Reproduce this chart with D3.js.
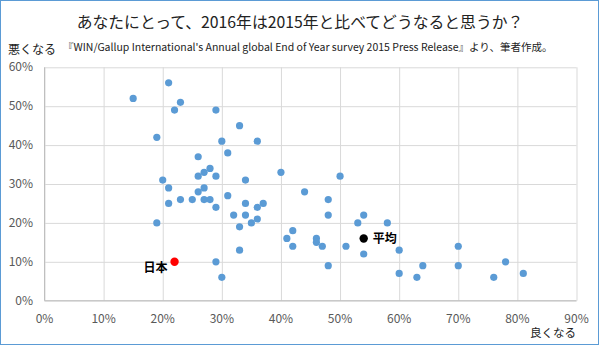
<!DOCTYPE html>
<html><head><meta charset="utf-8">
<script src="https://cdn.jsdelivr.net/npm/d3@7"></script>
<style>
html,body{margin:0;padding:0;background:#fff;}
svg{display:block;font-family:"Noto Sans CJK JP","Noto Sans",sans-serif;}
</style></head>
<body><svg id="c" width="600" height="346"></svg>
<script>
// x: 良くなる (better) %, y: 悪くなる (worse) %
const countriesBetter = [15,21,23,22,29,33,19,30,36,31,26,28,27,26,29,20,21,27,40,50,34,26,31,21,23,25,27,28,29,32,33,19,33,29,30,44,48,34,36,37,34,36,35,48,54,53,58,42,41,42,46,46,47,51,54,60,48,60,63,64,70,70,76,78,81];
const countriesWorse  = [52,56,51,49,49,45,42,41,41,38,37,34,33,32,32,31,29,29,33,32,31,28,27,25,26,26,26,26,24,22,19,20,13,10,6,28,26,25,24,25,22,21,20,22,22,20,20,18,16,14,16,15,14,14,12,13,9,7,6,9,14,9,6,10,7];
const japan = {label:"日本", better:22, worse:10};
const average = {label:"平均", better:54, worse:16};
const xTicks = [0,10,20,30,40,50,60,70,80,90];
const yTicks = [0,10,20,30,40,50,60];
const title = "あなたにとって、2016年は2015年と比べてどうなると思うか？";
const subtitle = "『WIN/Gallup International's Annual global End of Year survey 2015 Press Release』より、筆者作成。";

const svg = d3.select("#c");
svg.append("rect").attr("x",0.5).attr("y",0.5).attr("width",598).attr("height",344)
  .attr("fill","#fff").attr("stroke","#5b9bd5").attr("stroke-width",1);

const x = d3.scaleLinear().domain([0,90]).range([44.5,576.5]);
const y = d3.scaleLinear().domain([0,60]).range([300.7,67.3]);

// gridlines
const g = svg.append("g");
g.append("g").attr("transform",`translate(0,${y(0)})`)
  .call(d3.axisBottom(x).tickValues(xTicks).tickSize(-(y(0)-y(60))).tickFormat(""))
  .call(s=>{s.select(".domain").remove(); s.selectAll("line").attr("stroke","#d9d9d9");});
g.append("g").attr("transform",`translate(${x(0)},0)`)
  .call(d3.axisLeft(y).tickValues(yTicks).tickSize(-(x(90)-x(0))).tickFormat(""))
  .call(s=>{s.select(".domain").remove(); s.selectAll("line").attr("stroke","#d9d9d9");});
// axis lines
svg.append("line").attr("x1",x(0)).attr("x2",x(90)).attr("y1",y(0)).attr("y2",y(0)).attr("stroke","#bfbfbf");
svg.append("line").attr("x1",x(0)).attr("x2",x(0)).attr("y1",y(0)).attr("y2",y(60)).attr("stroke","#bfbfbf");

// tick labels
svg.append("g").selectAll("text").data(xTicks).join("text")
  .attr("x",d=>x(d)).attr("y",323).attr("text-anchor","middle")
  .attr("font-size",12).attr("fill","#595959").text(d=>d+"%");
svg.append("g").selectAll("text").data(yTicks).join("text")
  .attr("x",33).attr("y",d=>y(d)+4).attr("text-anchor","end")
  .attr("font-size",12).attr("fill","#595959").text(d=>d+"%");

// points
const pts = countriesBetter.map((b,i)=>({b, w:countriesWorse[i]}));
svg.append("g").selectAll("circle").data(pts).join("circle")
  .attr("cx",d=>x(d.b)).attr("cy",d=>y(d.w)).attr("r",3.6).attr("fill","#5b9bd5");

svg.append("circle").attr("cx",x(japan.better)).attr("cy",y(japan.worse)).attr("r",4.2).attr("fill","#ff0000");
svg.append("text").attr("x",x(japan.better)-7).attr("y",y(japan.worse)+10).attr("text-anchor","end")
  .attr("font-size",12).attr("font-weight","bold").attr("fill","#000").text(japan.label);
svg.append("circle").attr("cx",x(average.better)).attr("cy",y(average.worse)).attr("r",4.2).attr("fill","#000");
svg.append("text").attr("x",x(average.better)+9).attr("y",y(average.worse)+5)
  .attr("font-size",12).attr("font-weight","bold").attr("fill","#000").text(average.label);

// titles
svg.append("text").attr("x",300).attr("y",28).attr("text-anchor","middle")
  .attr("font-size",15.8).attr("fill","#222").text(title);
svg.append("text").attr("x",63).attr("y",51).attr("font-size",10.5).attr("fill","#222").text(subtitle);
svg.append("text").attr("x",8).attr("y",54).attr("font-size",12).attr("fill","#222").text("悪くなる");
svg.append("text").attr("x",530).attr("y",337).attr("font-size",11.5).attr("fill","#222").text("良くなる");
</script></body></html>
